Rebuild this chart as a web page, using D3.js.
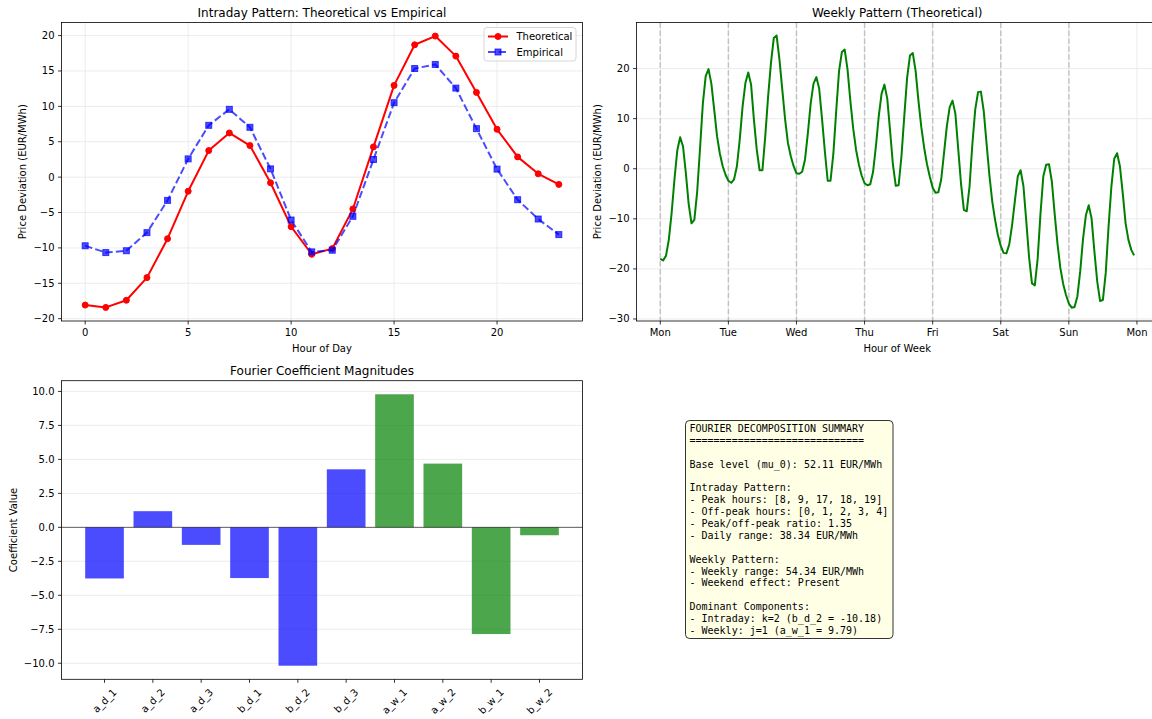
<!DOCTYPE html>
<html>
<head>
<meta charset="utf-8">
<script src="https://cdn.jsdelivr.net/npm/d3@7"></script>
<style>
  body { margin: 0; background: #ffffff; }
  svg text { font-family: "DejaVu Sans", sans-serif; fill: #000; }
  .mono { font-family: "DejaVu Sans Mono", monospace; white-space: pre; }
</style>
</head>
<body>
<svg id="fig" width="1152" height="719"></svg>
<script>
// ---- data ----
const hours = d3.range(24);
const theoretical = [-18.08, -18.41, -17.4, -14.2, -8.7, -2.0, 3.75, 6.24, 4.46, -0.8, -7.0, -10.9,
                     -10.1, -4.5, 4.27, 12.96, 18.7, 19.93, 17.1, 11.97, 6.76, 2.86, 0.47, -1.03];
const empirical = [-9.7, -10.66, -10.4, -7.84, -3.29, 2.58, 7.32, 9.58, 7.04, 1.17, -6.06, -10.56,
                   -10.33, -5.54, 2.49, 10.52, 15.35, 15.92, 12.58, 6.85, 1.13, -3.19, -5.92, -8.12];

const weekTickHours = [0, 24, 48, 72, 96, 120, 144, 168];
const weekTickLabels = ["Mon", "Tue", "Wed", "Thu", "Fri", "Sat", "Sun", "Mon"];
const dayStarts = [0, 24, 48, 72, 96, 120, 144];

// hourly values over the week, one row per day (Mon .. Sun)
const weeklyTheoretical = [
  -18.0, -18.3, -17.4, -14.2, -8.8, -2.1, 3.7, 6.3, 4.5, -0.8, -7.0, -10.9, -10.2, -4.6, 4.0, 13.0, 18.5, 19.9, 17.0, 11.8, 6.5, 3.0, 0.5, -1.2,
  -2.4, -2.8, -2.1, 0.5, 5.8, 12.4, 17.1, 19.2, 16.8, 9.8, 3.8, -0.3, -0.3, 6.5, 14.4, 21.1, 26.1, 26.6, 21.8, 15.8, 9.8, 5.1, 2.5, 0.5,
  -0.9, -1.0, -0.6, 1.8, 7.0, 13.0, 17.0, 18.3, 16.0, 10.0, 3.5, -2.4, -2.4, 3.0, 11.5, 19.5, 23.3, 23.8, 19.8, 13.5, 8.0, 3.8, 0.8, -1.4,
  -2.9, -3.3, -3.1, -0.6, 4.5, 10.5, 15.0, 16.8, 14.0, 7.5, 0.8, -3.4, -3.3, 2.5, 10.5, 18.2, 22.6, 23.1, 19.5, 13.5, 8.3, 4.2, 0.9, -1.6,
  -3.8, -4.8, -4.7, -2.2, 3.1, 8.5, 12.3, 13.6, 11.0, 4.0, -3.0, -8.2, -8.5, -3.5, 5.0, 11.8, 15.3, 15.4, 11.5, 5.0, -1.3, -6.5, -10.2, -13.3,
  -15.4, -16.8, -16.9, -15.1, -11.2, -6.3, -1.5, -0.3, -3.5, -10.5, -17.8, -22.9, -23.3, -18.0, -9.0, -1.5, 0.8, 0.9, -2.5, -9.0, -15.0, -19.8, -23.0, -25.2,
  -26.9, -27.74, -27.6, -25.5, -20.5, -14.0, -9.3, -7.3, -9.9, -16.5, -22.5, -26.4, -26.2, -20.8, -11.5, -3.5, 2.0, 3.1, 0.5, -4.9, -10.9, -14.2, -16.2, -17.3
];

const coefNames = ["a_d_1", "a_d_2", "a_d_3", "b_d_1", "b_d_2", "b_d_3", "a_w_1", "a_w_2", "b_w_1", "b_w_2"];
const coefValues = [-3.76, 1.19, -1.29, -3.73, -10.18, 4.27, 9.79, 4.69, -7.85, -0.58];
const coefGroups = ["daily", "daily", "daily", "daily", "daily", "daily", "weekly", "weekly", "weekly", "weekly"];

const summaryLines = [
  "FOURIER DECOMPOSITION SUMMARY",
  "=============================",
  "",
  "Base level (mu_0): 52.11 EUR/MWh",
  "",
  "Intraday Pattern:",
  "- Peak hours: [8, 9, 17, 18, 19]",
  "- Off-peak hours: [0, 1, 2, 3, 4]",
  "- Peak/off-peak ratio: 1.35",
  "- Daily range: 38.34 EUR/MWh",
  "",
  "Weekly Pattern:",
  "- Weekly range: 54.34 EUR/MWh",
  "- Weekend effect: Present",
  "",
  "Dominant Components:",
  "- Intraday: k=2 (b_d_2 = -10.18)",
  "- Weekly: j=1 (a_w_1 = 9.79)"
];

// ---- helpers ----
const svg = d3.select("#fig");
const GRID = "#e7e7e7";

function frame(g, box) {
  g.append("rect").attr("x", box.l).attr("y", box.t)
    .attr("width", box.r - box.l).attr("height", box.b - box.t)
    .attr("fill", "none").attr("stroke", "#000").attr("stroke-width", 0.8);
}

function xTicks(g, x, box, values, labels, gridOn) {
  values.forEach((v, i) => {
    const px = x(v);
    if (gridOn) g.append("line").attr("x1", px).attr("x2", px).attr("y1", box.t).attr("y2", box.b)
      .attr("stroke", GRID).attr("stroke-width", 0.8);
    g.append("line").attr("x1", px).attr("x2", px).attr("y1", box.b).attr("y2", box.b + 3.5)
      .attr("stroke", "#000").attr("stroke-width", 0.8);
    g.append("text").attr("x", px).attr("y", box.b + 14.5).attr("text-anchor", "middle")
      .attr("font-size", 10).text(labels[i]);
  });
}

function yTicks(g, y, box, values, fmt, gridOn) {
  values.forEach(v => {
    const py = y(v);
    if (gridOn) g.append("line").attr("x1", box.l).attr("x2", box.r).attr("y1", py).attr("y2", py)
      .attr("stroke", GRID).attr("stroke-width", 0.8);
    g.append("line").attr("x1", box.l - 3.5).attr("x2", box.l).attr("y1", py).attr("y2", py)
      .attr("stroke", "#000").attr("stroke-width", 0.8);
    g.append("text").attr("x", box.l - 7).attr("y", py).attr("dy", "0.35em")
      .attr("text-anchor", "end").attr("font-size", 10).text(fmt(v));
  });
}

function titles(g, box, title, xlabel, ylabel, ylabelX) {
  g.append("text").attr("x", (box.l + box.r) / 2).attr("y", box.t - 6)
    .attr("text-anchor", "middle").attr("font-size", 12).text(title);
  if (xlabel) g.append("text").attr("x", (box.l + box.r) / 2).attr("y", box.b + 30.5)
    .attr("text-anchor", "middle").attr("font-size", 10).text(xlabel);
  g.append("text").attr("transform", `translate(${ylabelX},${(box.t + box.b) / 2}) rotate(-90)`)
    .attr("text-anchor", "middle").attr("font-size", 10).text(ylabel);
}

const fmtInt = d3.format("d");

// ---- panel 1: intraday ----
{
  const box = { l: 61.5, r: 582.5, t: 22.5, b: 321 };
  const g = svg.append("g");
  const x = d3.scaleLinear().domain([-1.15, 24.15]).range([box.l, box.r]);
  const y = d3.scaleLinear().domain([-20.33, 21.85]).range([box.b, box.t]);
  xTicks(g, x, box, [0, 5, 10, 15, 20], [0, 5, 10, 15, 20].map(fmtInt), true);
  yTicks(g, y, box, [-20, -15, -10, -5, 0, 5, 10, 15, 20], fmtInt, true);

  const line = d3.line().x((d, i) => x(hours[i])).y(d => y(d));
  g.append("path").attr("d", line(theoretical)).attr("fill", "none")
    .attr("stroke", "red").attr("stroke-width", 2).attr("stroke-linejoin", "round");
  g.selectAll(null).data(theoretical).enter().append("circle")
    .attr("cx", (d, i) => x(hours[i])).attr("cy", d => y(d)).attr("r", 3)
    .attr("fill", "red").attr("stroke", "red").attr("stroke-width", 1);

  g.append("path").attr("d", line(empirical)).attr("fill", "none")
    .attr("stroke", "blue").attr("stroke-opacity", 0.7).attr("stroke-width", 2)
    .attr("stroke-dasharray", "7.4,3.2");
  g.selectAll(null).data(empirical).enter().append("rect")
    .attr("x", (d, i) => x(hours[i]) - 3).attr("y", d => y(d) - 3)
    .attr("width", 6).attr("height", 6)
    .attr("fill", "blue").attr("fill-opacity", 0.7)
    .attr("stroke", "blue").attr("stroke-opacity", 0.7).attr("stroke-width", 1);

  frame(g, box);
  titles(g, box, "Intraday Pattern: Theoretical vs Empirical", "Hour of Day", "Price Deviation (EUR/MWh)", 26);

  // legend
  const lg = g.append("g");
  lg.append("rect").attr("x", 484).attr("y", 27.5).attr("width", 92).attr("height", 33.5)
    .attr("rx", 3).attr("fill", "#fff").attr("fill-opacity", 0.8)
    .attr("stroke", "#cccccc").attr("stroke-width", 0.8);
  const items = [
    { name: "Theoretical", y: 36.5, kind: "circle" },
    { name: "Empirical", y: 52, kind: "square" }
  ];
  items.forEach(it => {
    if (it.kind === "circle") {
      lg.append("line").attr("x1", 488).attr("x2", 508).attr("y1", it.y).attr("y2", it.y)
        .attr("stroke", "red").attr("stroke-width", 2);
      lg.append("circle").attr("cx", 498).attr("cy", it.y).attr("r", 3)
        .attr("fill", "red").attr("stroke", "red").attr("stroke-width", 1);
    } else {
      lg.append("line").attr("x1", 488).attr("x2", 508).attr("y1", it.y).attr("y2", it.y)
        .attr("stroke", "blue").attr("stroke-opacity", 0.7).attr("stroke-width", 2)
        .attr("stroke-dasharray", "7.4,3.2");
      lg.append("rect").attr("x", 495).attr("y", it.y - 3).attr("width", 6).attr("height", 6)
        .attr("fill", "blue").attr("fill-opacity", 0.7)
        .attr("stroke", "blue").attr("stroke-opacity", 0.7).attr("stroke-width", 1);
    }
    lg.append("text").attr("x", 516.5).attr("y", it.y).attr("dy", "0.35em")
      .attr("font-size", 10).text(it.name);
  });
}

// ---- panel 2: weekly ----
{
  const box = { l: 636.6, r: 1157.8, t: 22.5, b: 321 };
  const g = svg.append("g");
  const x = d3.scaleLinear().domain([-8.35, 175.35]).range([box.l, box.r]);
  const y = d3.scaleLinear().domain([-30.4, 29.2]).range([box.b, box.t]);
  xTicks(g, x, box, weekTickHours, weekTickLabels, true);
  yTicks(g, y, box, [-30, -20, -10, 0, 10, 20], fmtInt, true);

  dayStarts.forEach(h => {
    g.append("line").attr("x1", x(h)).attr("x2", x(h)).attr("y1", box.t).attr("y2", box.b)
      .attr("stroke", "gray").attr("stroke-opacity", 0.4).attr("stroke-width", 1.5)
      .attr("stroke-dasharray", "5.55,2.4");
  });

  const line = d3.line().x((d, i) => x(i)).y(d => y(d));
  g.append("path").attr("d", line(weeklyTheoretical)).attr("fill", "none")
    .attr("stroke", "green").attr("stroke-width", 2).attr("stroke-linejoin", "round");

  frame(g, box);
  titles(g, box, "Weekly Pattern (Theoretical)", "Hour of Week", "Price Deviation (EUR/MWh)", 601);
}

// ---- panel 3: coefficients ----
{
  const box = { l: 61.5, r: 582.5, t: 380.7, b: 679.3 };
  const g = svg.append("g");
  const x = d3.scaleLinear().domain([-0.89, 9.89]).range([box.l, box.r]);
  const y = d3.scaleLinear().domain([-11.18, 10.79]).range([box.b, box.t]);
  yTicks(g, y, box, [-10, -7.5, -5, -2.5, 0, 2.5, 5, 7.5, 10], d3.format(".1f"), true);

  const bw = x(0.8) - x(0);
  g.selectAll(null).data(coefValues).enter().append("rect")
    .attr("x", (d, i) => x(i) - bw / 2)
    .attr("y", d => y(Math.max(0, d)))
    .attr("width", bw)
    .attr("height", d => Math.abs(y(d) - y(0)))
    .attr("fill", (d, i) => coefGroups[i] === "daily" ? "blue" : "green")
    .attr("fill-opacity", 0.7);

  g.append("line").attr("x1", box.l).attr("x2", box.r).attr("y1", y(0)).attr("y2", y(0))
    .attr("stroke", "#000").attr("stroke-opacity", 0.6).attr("stroke-width", 1);

  // rotated category labels
  coefNames.forEach((name, i) => {
    const px = x(i);
    g.append("line").attr("x1", px).attr("x2", px).attr("y1", box.b).attr("y2", box.b + 3.5)
      .attr("stroke", "#000").attr("stroke-width", 0.8);
    const t = g.append("text").attr("font-size", 10).attr("text-anchor", "middle")
      .attr("dominant-baseline", "central").text(name);
    const w = t.node().getComputedTextLength();
    const h = 11.6;
    const half = (w + h) / Math.SQRT2 / 2;
    t.attr("transform", `translate(${px},${box.b + 7 + half}) rotate(-45)`);
  });

  frame(g, box);
  titles(g, box, "Fourier Coefficient Magnitudes", null, "Coefficient Value", 17);
}

// ---- summary box ----
{
  const g = svg.append("g");
  g.append("rect").attr("x", 685.5).attr("y", 420.5).attr("width", 207.5).attr("height", 218)
    .attr("rx", 4).attr("fill", "#ffffe6")
    .attr("stroke", "#000").attr("stroke-opacity", 0.8).attr("stroke-width", 1);
  summaryLines.forEach((s, i) => {
    g.append("text").attr("class", "mono").attr("x", 689.5).attr("y", 432 + i * 11.88)
      .attr("font-size", 10).text(s);
  });
}
</script>
</body>
</html>
